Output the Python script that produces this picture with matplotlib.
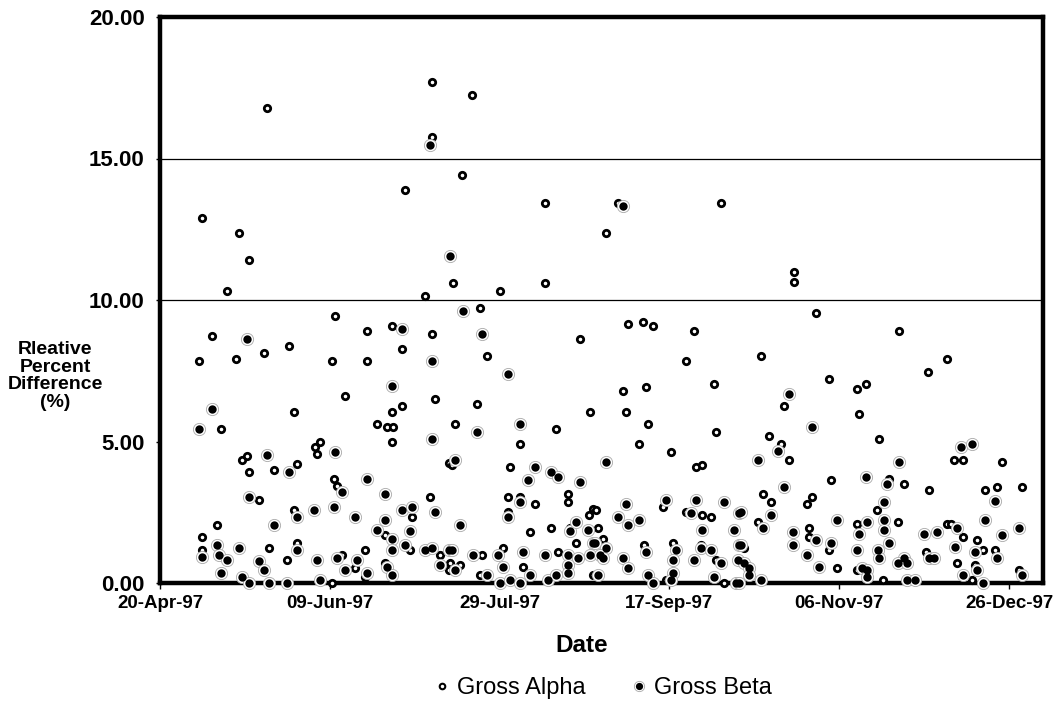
import matplotlib
matplotlib.use('Agg')
import matplotlib.pyplot as plt
import matplotlib.dates as mdates
from matplotlib.lines import Line2D
from matplotlib.legend_handler import HandlerTuple
import datetime as dt

plt.rcParams['font.family'] = ['Liberation Sans', 'DejaVu Sans']

# ---------------- data ----------------
START_DATE = dt.date(1997, 4, 20)   # days below are offsets from this date
AXIS_DAYS = 260
TICK_STEP_DAYS = 50

alpha_days = [80.2, 92.0, 31.4, 80.2, 72.0, 89.0, 12.3, 23.3, 26.3, 19.6, 86.3, 78.1, 113.4, 134.8, 165.2,
              131.2, 100.2, 113.4, 186.6, 186.6,
              15.2, 38.0, 11.5, 22.5, 30.7, 39.5, 18.1, 24.0, 25.5, 26.3, 33.6, 40.4, 29.2, 39.5, 16.7,
              12.3, 12.3, 32.1, 37.4, 40.4,
              51.5, 61.0, 68.3, 80.2, 71.4, 50.7, 61.0, 54.4, 80.9, 71.4, 68.3, 63.9, 66.9, 68.6, 68.3,
              47.1, 45.6, 46.3, 85.1, 51.3, 52.2, 79.4, 74.3, 66.2, 73.5, 82.5, 53.6, 60.3, 57.4, 60.3,
              66.2, 50.7, 85.1,
              94.3, 123.7, 96.4, 93.4, 126.7, 87.0, 116.5, 106.1, 86.0, 103.1, 102.5, 106.1, 110.5, 120.1,
              120.1, 102.5, 126.2, 127.6, 109.0, 115.0, 120.8, 122.4, 101.0, 94.9, 117.2, 85.3, 88.2,
              106.9, 94.3, 127.6,
              137.9, 142.2, 145.3, 157.1, 154.9, 163.0, 136.4, 143.1, 137.1, 143.7, 163.7, 140.9, 150.5,
              157.8, 159.5, 148.2, 128.4, 154.9, 159.5, 162.3, 129.1, 130.4, 142.4, 151.2, 149.0, 159.3,
              163.7, 166.0, 170.4,
              193.3, 177.0, 197.0, 205.1, 208.0, 183.6, 205.9, 211.8, 179.2, 182.9, 185.3, 197.7, 177.7,
              180.0, 191.9, 190.4, 176.2, 205.1, 191.2, 191.2, 197.1, 199.2, 205.1, 171.9, 213.0, 211.1,
              217.7, 231.7, 226.0, 233.8, 236.3, 248.0, 214.7, 219.2, 226.5, 242.8, 246.4, 253.9, 217.2,
              231.8, 232.8, 236.3, 240.5, 242.2, 225.5, 245.8, 234.6, 239.9, 252.9, 239.2]
alpha_vals = [17.70, 17.23, 16.80, 15.76, 13.87, 14.40, 12.88, 12.36, 11.40, 10.32, 10.59, 10.15, 13.43, 13.43, 13.43,
              12.36, 10.32, 10.59, 11.00, 10.65,
              8.72, 8.37, 7.84, 7.92, 8.11, 6.06, 5.44, 4.36, 4.48, 3.92, 4.00, 4.21, 2.94, 2.59, 2.06,
              1.61, 1.18, 1.25, 0.83, 1.43,
              9.43, 8.89, 9.08, 8.81, 8.27, 7.84, 7.84, 6.60, 6.50, 6.24, 6.06, 5.61, 5.53, 5.53, 5.00,
              5.00, 4.82, 4.56, 4.23, 3.66, 3.44, 3.05, 2.32, 1.69, 1.18, 0.98, 0.98, 1.18, 0.54, 0.21,
              0.72, 0.01, 0.47,
              9.70, 8.63, 8.01, 6.32, 6.06, 5.61, 5.44, 4.90, 4.18, 4.11, 3.05, 3.05, 2.78, 3.13,
              2.87, 2.52, 2.42, 2.61, 1.81, 1.96, 1.96, 1.43, 1.25, 0.98, 1.08, 0.72, 0.64,
              0.57, 0.28, 0.28,
              9.16, 9.24, 9.08, 8.90, 7.84, 7.03, 6.77, 6.94, 6.06, 5.61, 5.34, 4.90, 4.63,
              4.11, 4.17, 2.69, 2.59, 2.52, 2.41, 2.32, 1.96, 1.55, 1.35, 1.43, 0.12, 1.35,
              0.83, 0.01, 0.83,
              9.53, 8.01, 7.21, 6.86, 7.03, 6.24, 5.97, 5.08, 5.18, 4.90, 4.36, 3.65, 3.13,
              2.87, 3.05, 2.78, 2.16, 2.08, 1.96, 1.61, 1.17, 0.54, 0.45, 1.25, 0.12, 2.59,
              8.90, 7.92, 7.47, 4.36, 4.36, 4.28, 3.68, 3.50, 3.30, 3.30, 3.39, 3.39, 2.16,
              2.08, 2.08, 1.61, 1.52, 1.17, 1.08, 1.17, 0.72, 0.64, 0.47, 0.12]

beta_days = [79.4, 85.3, 136.3,
             25.5, 15.2, 11.5, 31.4, 38.0, 26.3, 40.4, 33.6, 12.3, 16.7, 17.4, 19.6, 23.3, 18.1, 24.0,
             26.3, 29.2, 30.7, 32.1, 37.4, 40.4,
             71.3, 80.2, 68.3, 80.2, 51.5, 53.6, 61.0, 66.2, 45.4, 51.3, 57.4, 66.2, 71.4, 74.3, 80.9,
             63.9, 68.3, 73.5, 72.1, 68.3, 77.9, 80.2, 85.1, 46.3, 52.2, 58.0, 54.4, 61.0, 66.9, 68.3,
             47.1, 82.5,
             89.2, 94.9, 102.5, 93.4, 106.1, 86.8, 110.5, 108.3, 115.0, 117.2, 123.8, 106.1, 102.5, 88.2,
             120.8, 122.4, 126.0, 127.6, 86.0, 92.2, 99.5, 106.9, 113.5, 120.1, 123.0, 126.7, 120.1,
             120.1, 87.0, 101.0, 96.4, 100.2, 103.2, 106.1, 109.0, 114.2, 116.5,
             131.2, 149.0, 137.1, 157.8, 166.0, 134.9, 137.9, 140.9, 156.4, 159.5, 168.9, 170.4, 128.2,
             131.2, 129.5, 130.4, 143.1, 136.4, 137.9, 129.1, 152.0, 151.2, 151.2, 150.5, 143.8, 145.3,
             159.3, 157.1, 162.3, 165.2, 163.0, 169.6, 170.4,
             185.1, 191.9, 182.0, 176.2, 208.0, 183.6, 171.1, 180.0, 177.7, 199.2, 208.1, 205.9, 186.5,
             186.5, 193.3, 197.7, 190.4, 194.1, 205.1, 206.7, 208.1, 208.1, 171.1, 170.3, 171.9, 173.3,
             173.3, 170.6, 177.0, 211.3, 211.8,
             236.0, 239.2, 217.7, 214.2, 245.8, 213.2, 213.2, 213.2, 242.8, 234.6, 228.9, 225.0, 252.9,
             248.0, 214.7, 234.1, 239.9, 226.5, 228.0, 246.4, 219.2, 217.2, 220.0, 236.3, 240.5, 253.9,
             220.1, 222.3, 242.2]
beta_vals = [15.47, 11.57, 13.33,
             8.62, 6.15, 5.44, 4.54, 3.92, 3.03, 2.32, 2.06, 0.92, 1.35, 0.98, 0.83, 1.25, 0.37, 0.22,
             0.01, 0.76, 0.47, 0.01, 0.01, 1.18,
             8.98, 7.84, 6.95, 5.08, 4.63, 3.23, 3.66, 3.13, 2.59, 2.67, 2.32, 2.23, 2.59, 2.67, 2.50,
             1.87, 1.54, 1.82, 1.35, 1.18, 1.18, 1.25, 1.18, 0.83, 0.90, 0.83, 0.47, 0.37, 0.57, 0.28,
             0.12, 0.64,
             9.61, 8.81, 7.39, 5.35, 5.61, 4.36, 4.11, 3.65, 3.92, 3.76, 3.57, 2.87, 2.34, 2.06,
             1.82, 2.16, 1.88, 1.43, 1.17, 0.98, 0.98, 1.08, 0.98, 0.98, 0.90, 0.98, 0.64,
             0.37, 0.45, 0.57, 0.28, 0.00, 0.12, 0.01, 0.28, 0.12, 0.28,
             4.29, 2.94, 2.78, 2.94, 2.87, 2.33, 2.06, 2.23, 2.49, 1.88, 1.88, 2.49, 1.43,
             1.25, 0.98, 0.90, 1.08, 0.90, 0.54, 0.28, 1.17, 0.83, 0.37, 0.12, 0.28, 0.01,
             1.25, 0.83, 1.17, 0.72, 0.21, 0.00, 1.35,
             6.68, 5.52, 4.65, 4.36, 3.76, 3.39, 2.52, 2.41, 1.96, 2.23, 2.16, 1.73, 1.81,
             1.35, 1.52, 1.43, 0.98, 0.57, 1.17, 0.54, 0.45, 0.21, 1.35, 0.83, 0.72, 0.54,
             0.28, 0.00, 0.12, 1.17, 0.90,
             4.82, 4.90, 4.28, 3.50, 2.88, 2.87, 2.23, 1.88, 2.23, 1.96, 1.81, 1.73, 1.96,
             1.70, 1.43, 1.28, 1.08, 0.90, 0.90, 0.90, 0.90, 0.72, 0.72, 0.28, 0.47, 0.28,
             0.12, 0.12, 0.00]

y_ticks = [0, 5, 10, 15, 20]
grid_values = [10, 15]
series_names = ['Gross Alpha', 'Gross Beta']
x_label = 'Date'
y_label = 'Rleative\nPercent\nDifference\n(%)'

# ---------------- figure ----------------
W, H = 1058, 710
fig = plt.figure(figsize=(W / 100, H / 100), dpi=100)
ax = fig.add_axes([160 / W, 1 - 583 / H, (1043 - 160) / W, (583 - 17) / H])

x0 = mdates.date2num(START_DATE)
ax_alpha = [x0 + d for d in alpha_days]
ax_beta = [x0 + d for d in beta_days]

ax.plot(ax_alpha, alpha_vals, ls='none', marker='o', ms=4.6, mfc='white', mec='black',
        mew=2.0, zorder=4, clip_on=False)
ax.plot(ax_beta, beta_vals, ls='none', marker='o', ms=8.8, mfc='white', mec='#a8a8a8',
        mew=0.6, zorder=5, clip_on=False)
ax.plot(ax_beta, beta_vals, ls='none', marker='o', ms=6.0, mfc='black', mec='black',
        mew=0, zorder=6, clip_on=False)

for g in grid_values:
    ax.axhline(g, color='black', lw=0.9, zorder=1)

ax.set_ylim(y_ticks[0], y_ticks[-1])
ax.set_yticks(y_ticks)
ax.set_yticklabels([f'{v:.2f}' for v in y_ticks])

ax.set_xlim(x0, x0 + AXIS_DAYS)
ax.set_xticks([x0 + d for d in range(0, AXIS_DAYS, TICK_STEP_DAYS)])
ax.xaxis.set_major_formatter(mdates.DateFormatter('%d-%b-%y'))

for s in ax.spines.values():
    s.set_linewidth(3.2)
    s.set_color('black')
    s.set_zorder(3)

ax.tick_params(axis='y', direction='out', length=3, width=1, pad=8, labelsize=16)
ax.tick_params(axis='x', direction='out', length=4, width=1, pad=5, labelsize=13.5)
for lbl in ax.get_xticklabels() + ax.get_yticklabels():
    lbl.set_fontweight('bold')

fig.text(582 / W, 1 - 645 / H, x_label, ha='center', va='center', fontsize=17.5, fontweight='bold')
fig.text(55 / W, 1 - 376 / H, y_label, ha='center', va='center', fontsize=14, fontweight='bold',
         linespacing=1.05, multialignment='center')

# legend
h_alpha = Line2D([], [], ls='none', marker='o', ms=4.0, mfc='white', mec='black', mew=1.5)
h_ring = Line2D([], [], ls='none', marker='o', ms=7.4, mfc='white', mec='#a8a8a8', mew=0.6)
h_disc = Line2D([], [], ls='none', marker='o', ms=5.2, mfc='black', mec='black', mew=0)
fig.legend([h_alpha, (h_ring, h_disc)], series_names,
           handler_map={tuple: HandlerTuple(ndivide=1, pad=0)},
           loc='center', bbox_to_anchor=(604 / W, 1 - 688 / H), ncol=2, frameon=False,
           fontsize=17, handlelength=0.5, handletextpad=0.4, columnspacing=2.0)

fig.savefig('out.png', dpi=100)
